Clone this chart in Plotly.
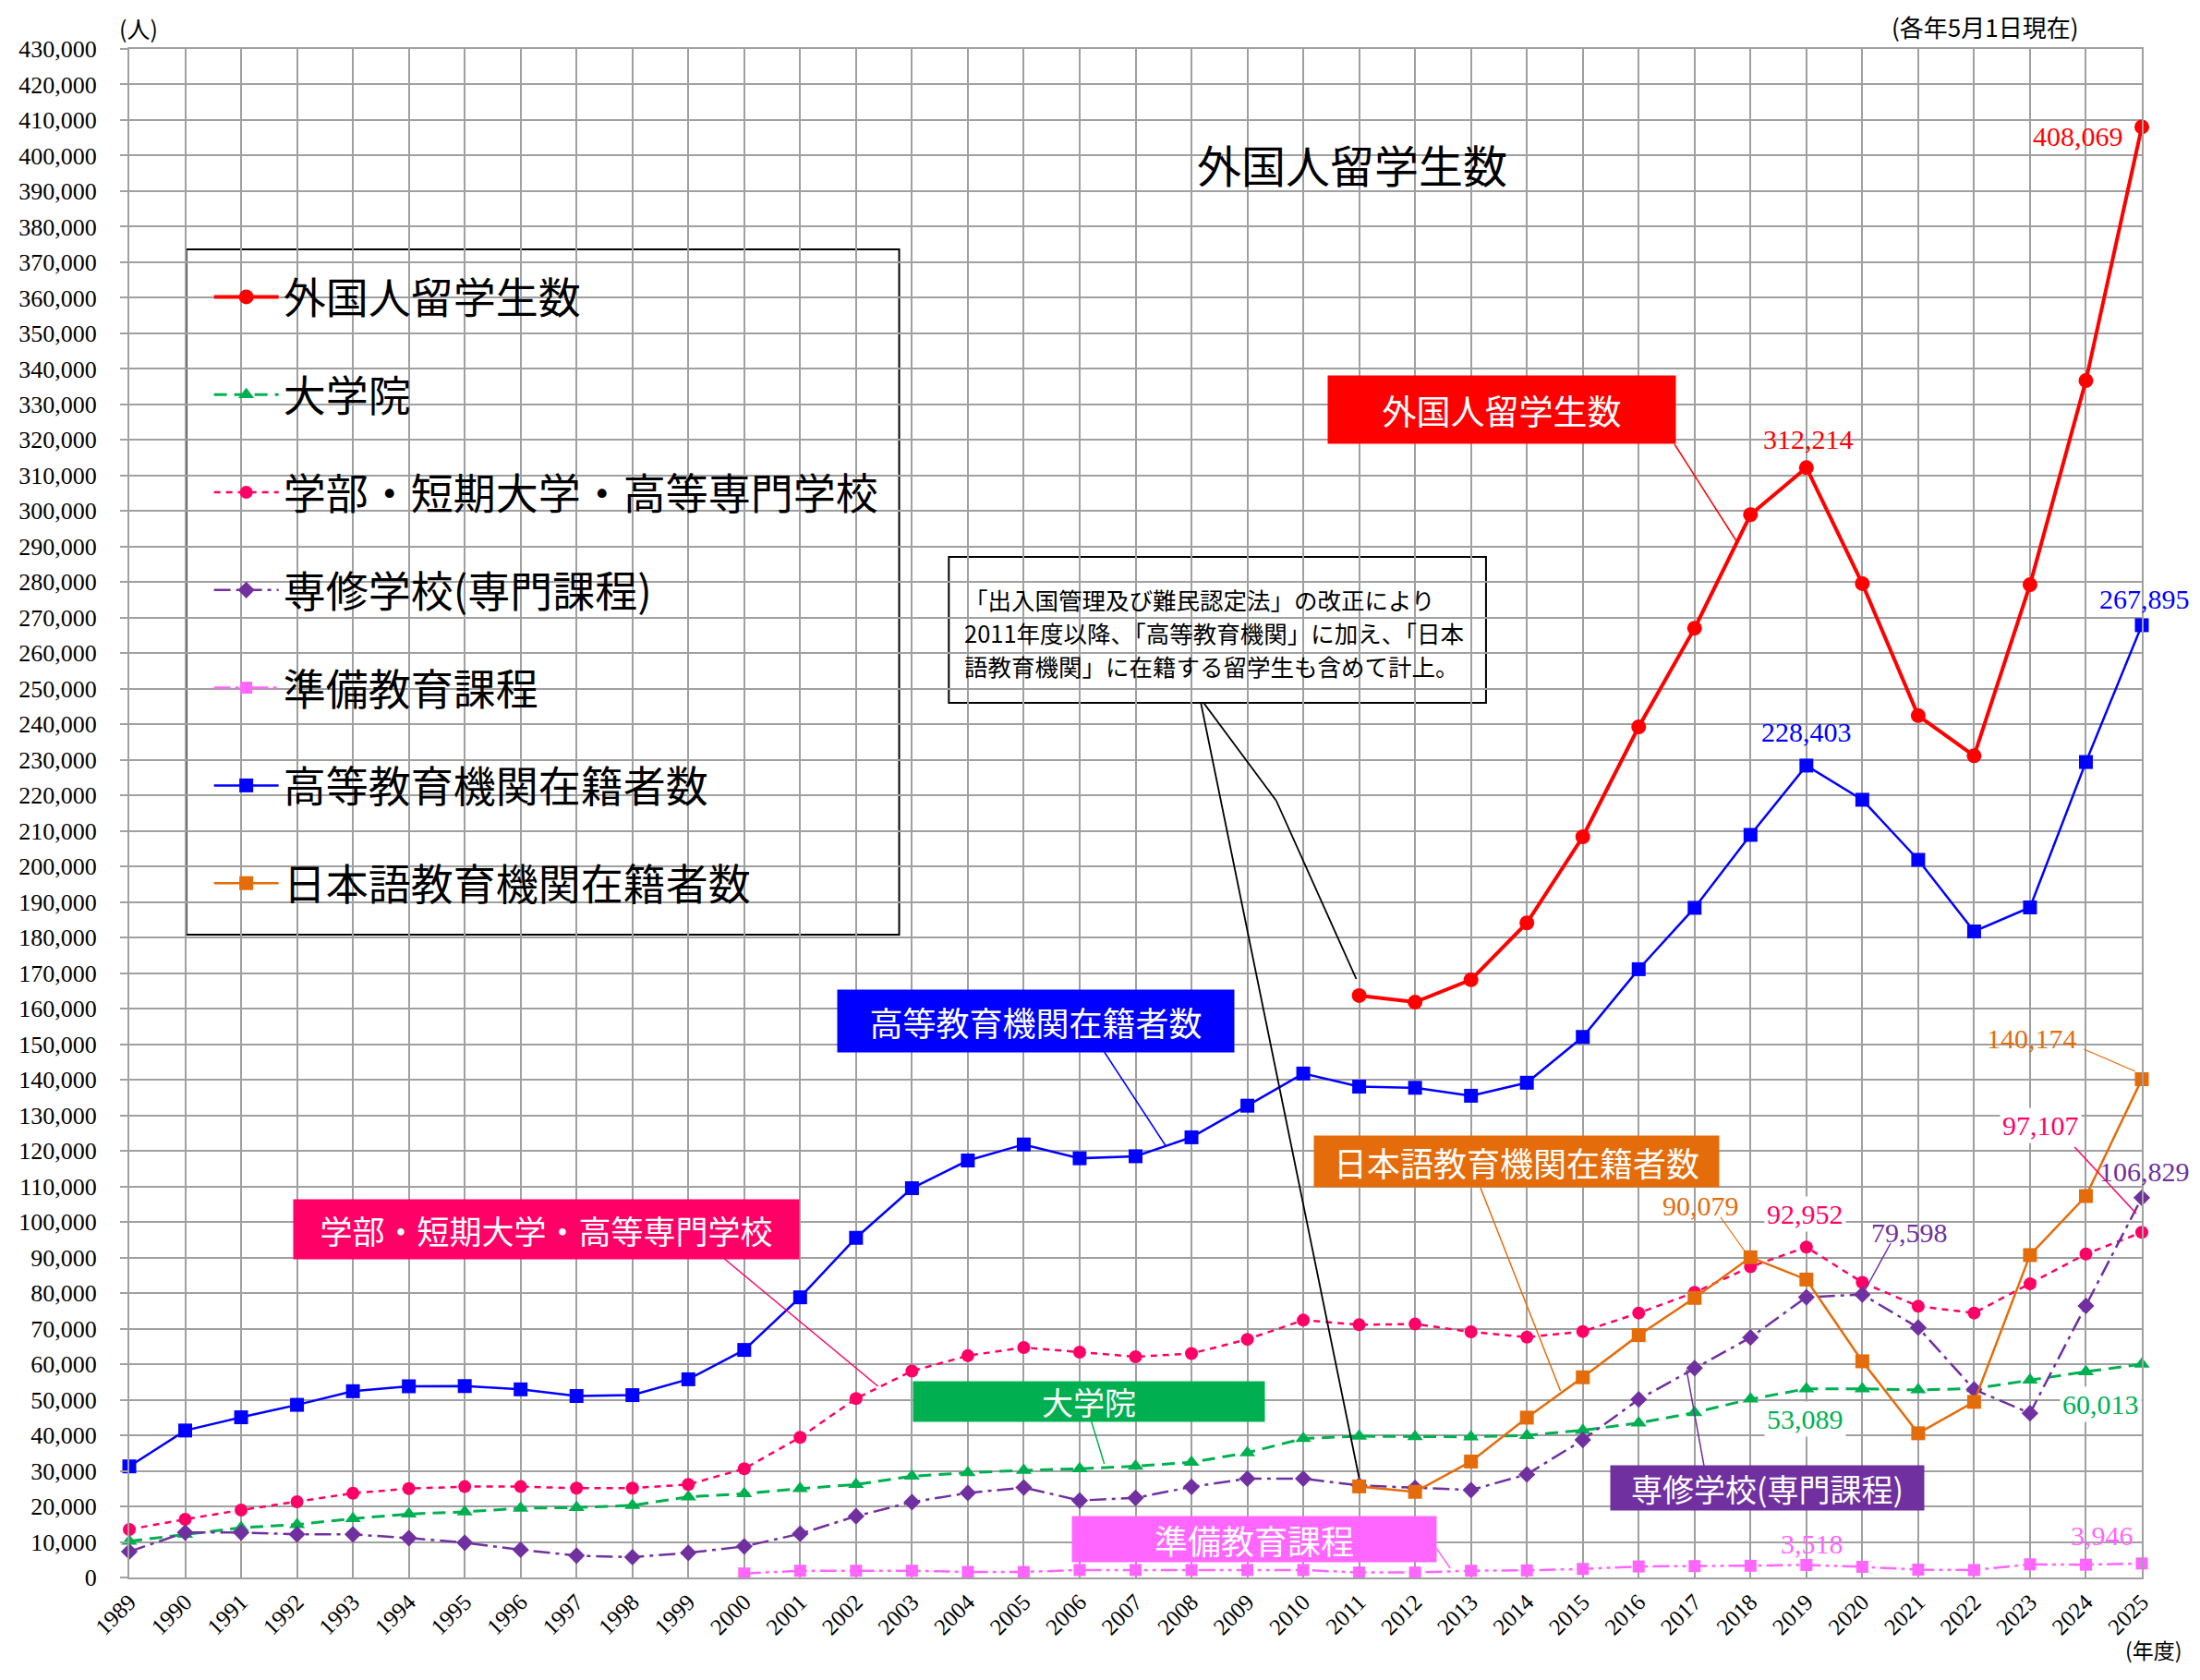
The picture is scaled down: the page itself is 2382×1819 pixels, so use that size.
import plotly.graph_objects as go

# ---------------- data ----------------
years = list(range(1989, 2026))

total = [None] * 22 + [163697, 161848, 168145, 184155, 208379, 239287, 267042,
                       298980, 312214, 279597, 242444, 231146, 279274, 336708, 408069]

graduate = [10200, 12130, 14000, 14900, 16550, 17850, 18460, 19500, 19670, 20280,
            22700, 23570, 25000, 26170, 28500, 29460, 30160, 30600, 31300, 32400,
            35100, 39097, 39749, 39641, 39567, 39979, 41396, 43478, 46373, 50184,
            53089, 53056, 52781, 53122, 55519, 57900, 60013]

undergrad = [13520, 16380, 18980, 21300, 23700, 25000, 25560, 25560, 25130, 25130,
             26170, 30590, 39430, 50350, 58060, 62400, 64700, 63400, 62100, 63000,
             67000, 72400, 71100, 71300, 69100, 67600, 69200, 74400, 80200, 87400,
             92952, 83000, 76300, 74400, 82600, 91000, 97107]

vocational = [7280, 12650, 12650, 12130, 12130, 11090, 9790, 7800, 6150, 5720,
              6930, 8750, 12300, 17240, 21200, 23800, 25300, 21660, 22400, 25500,
              27800, 27800, 25900, 25200, 24600, 29000, 38700, 50100, 58900, 67500,
              78844, 79598, 70300, 52900, 46200, 76400, 106829]

prep = [None] * 11 + [1130, 1900, 1900, 1900, 1560, 1560, 2100, 2100, 2100, 2100,
                      2100, 1400, 1400, 1900, 2000, 2400, 3100, 3200, 3300, 3518,
                      3000, 2200, 2100, 3700, 3600, 3946]

higher = [31251, 41347, 45066, 48561, 52405, 53787, 53847, 52921, 51047, 51298,
          55755, 64011, 78812, 95550, 109508, 117302, 121812, 117927, 118498, 123829,
          132720, 141774, 138075, 137756, 135519, 139185, 152062, 171122, 188384, 208901,
          228403, 218783, 201877, 181741, 188500, 229400, 267895]

japanese = [None] * 22 + [25622, 24092, 32626, 44970, 56317, 68165, 78658, 90079,
                          83811, 60814, 40567, 49405, 90700, 107300, 140174]

names = ["外国人留学生数", "大学院", "学部・短期大学・高等専門学校", "専修学校(専門課程)",
         "準備教育課程", "高等教育機関在籍者数", "日本語教育機関在籍者数"]

# ---------------- geometry helpers (window pixel coords) ----------------
WIN_W, WIN_H = 2382, 1819
OFF = 8                       # default page body margin
W, H = WIN_W - 2 * OFF, WIN_H - 2 * OFF
L, R, T, B = 131, 2319, 53, 1708   # plot area in window pixels


def px(x):
    return (x - L) / (R - L)


def py(y):
    return (B - y) / (B - T)


JP = "Noto Sans CJK JP"
NUM = "Liberation Serif"

RED = "#FF0000"
GREEN = "#00B050"
PINK = "#FF0066"
PURPLE = "#7030A0"
MAGENTA = "#FF66FF"
BLUE = "#0000FF"
ORANGE = "#E46C0A"
GRID = "#A0A0A0"

fig = go.Figure()

series = [
    (names[0], total, RED, "solid", 4, "circle", 16),
    (names[1], graduate, GREEN, "14px,8px", 3, "triangle-up", 15),
    (names[2], undergrad, PINK, "7px,6px", 2.5, "circle", 14),
    (names[3], vocational, PURPLE, "18px,6px,4px,6px", 2.5, "diamond", 14),
    (names[4], prep, MAGENTA, "18px,5px,4px,5px,4px,5px", 2.5, "square", 13),
    (names[5], higher, BLUE, "solid", 2.5, "square", 15),
    (names[6], japanese, ORANGE, "solid", 2.5, "square", 15),
]

for i, (nm, ys, col, dash, lw, sym, ms) in enumerate(series):
    fig.add_trace(go.Scatter(
        x=years, y=ys, name=nm, mode="lines+markers",
        line=dict(color=col, width=lw, dash=dash),
        marker=dict(symbol=sym, size=ms, color=col, line=dict(width=0)),
        legendgroup=f"g{i}", cliponaxis=False, connectgaps=False,
    ))

shapes = []
annotations = []


def box(x0, y0, x1, y1, fill, line=None, lw=0, layer="between"):
    shapes.append(dict(type="rect", xref="paper", yref="paper",
                       x0=px(x0), x1=px(x1), y0=py(y1), y1=py(y0),
                       fillcolor=fill, line=dict(color=line or fill, width=lw), layer=layer))


def seg(pts, color, width=1.5):
    for (a, b), (c, d) in zip(pts[:-1], pts[1:]):
        shapes.append(dict(type="line", xref="paper", yref="paper",
                           x0=px(a), y0=py(b), x1=px(c), y1=py(d),
                           line=dict(color=color, width=width), layer="above"))


def text(x, y, s, size, color="black", font=JP, xanchor="center", bg=None):
    annotations.append(dict(x=px(x), y=py(y), xref="paper", yref="paper", text=s,
                            showarrow=False, xanchor=xanchor, yanchor="middle",
                            font=dict(family=font, size=size, color=color),
                            bgcolor=bg, borderpad=2))


def callout(x0, y0, x1, y1, s, color, size):
    annotations.append(dict(x=px((x0 + x1) / 2), y=py((y0 + y1) / 2), xref="paper", yref="paper",
                            text=s, showarrow=False, xanchor="center", yanchor="middle",
                            width=x1 - x0, height=y1 - y0, bgcolor=color, borderpad=0,
                            font=dict(family=JP, size=size, color="white")))


# legend frame
box(193, 270, 968, 1012, "white", "black", 2)

# title box
box(1105, 134, 1813, 226, "white")
text(1460, 177, "外国人留学生数", 48)

# note box
box(1022, 603, 1606, 761, "white", "black", 2)
text(1036, 648, "「出入国管理及び難民認定法」の改正により", 25.5, xanchor="left")
text(1036, 684, "2011年度以降、「高等教育機関」に加え、「日本", 25.5, xanchor="left")
text(1036, 720, "語教育機関」に在籍する留学生も含めて計上。", 25.5, xanchor="left")
seg([(1299, 761), (1378, 867), (1465, 1060)], "black", 1.8)
seg([(1296, 761), (1468, 1600)], "black", 1.8)

# unit labels
text(141, 30, "(人)", 25)
text(2148, 28, "(各年5月1日現在)", 26)
text(2366, 1786, "(年度)", 23, xanchor="right")

# series callouts
callout(1435, 407, 1811, 480, names[0], RED, 37)
seg([(1811, 481), (1879, 587)], RED, 1.5)
callout(902, 1072, 1331, 1139, names[5], BLUE, 36)
seg([(1191, 1139), (1258, 1241)], BLUE, 1.5)
callout(311, 1299, 858, 1363, names[2], PINK, 35)
seg([(778, 1363), (945, 1501)], PINK, 1.5)
callout(984, 1496, 1364, 1539, names[1], GREEN, 34)
seg([(1177, 1539), (1191, 1585)], GREEN, 1.5)
callout(1420, 1230, 1858, 1285, names[6], ORANGE, 36)
seg([(1600, 1286), (1687, 1506)], ORANGE, 1.5)
callout(1742, 1587, 2081, 1635, names[3], PURPLE, 34)
seg([(1843, 1587), (1824, 1483)], PURPLE, 1.5)
callout(1157, 1642, 1551, 1691, names[4], MAGENTA, 36)
seg([(1552, 1676), (1567, 1698)], MAGENTA, 1.5)

# value labels
VS = 30
text(2250, 147, f"{total[-1]:,}", VS, RED, NUM)
text(1957, 476, f"{total[30]:,}", VS, RED, NUM)
text(2322, 648, f"{higher[-1]:,}", VS, BLUE, NUM)
text(1955, 792, f"{higher[30]:,}", VS, BLUE, NUM)
text(2200, 1124, f"{japanese[-1]:,}", VS, ORANGE, NUM)
seg([(2256, 1136), (2312, 1160)], ORANGE, 1.2)
text(2209, 1218, f"{undergrad[-1]:,}", VS, PINK, NUM, bg="white")
seg([(2246, 1242), (2313, 1314)], PINK, 1.5)
text(2322, 1268, f"{vocational[-1]:,}", VS, PURPLE, NUM)
text(1840, 1305, f"{japanese[29]:,}", VS, ORANGE, NUM)
seg([(1861, 1318), (1889, 1357)], ORANGE, 1.2)
text(1953, 1314, f"{undergrad[30]:,}", VS, PINK, NUM, bg="white")
text(2066, 1334, f"{vocational[31]:,}", VS, PURPLE, NUM)
seg([(2046, 1346), (2018, 1397)], PURPLE, 1.5)
text(1953, 1536, f"{graduate[30]:,}", VS, GREEN, NUM, bg="white")
text(2274, 1520, f"{graduate[-1]:,}", VS, GREEN, NUM, bg="white")
text(1961, 1671, f"{prep[30]:,}", VS, MAGENTA, NUM)
text(2276, 1662, f"{prep[-1]:,}", VS, MAGENTA, NUM)

fig.update_layout(
    width=W, height=H, autosize=False,
    margin=dict(l=L - OFF, r=W - (R - OFF), t=T - OFF, b=H - (B - OFF)),
    paper_bgcolor="white", plot_bgcolor="white",
    shapes=shapes, annotations=annotations,
    showlegend=True,
    legend=dict(x=px(218), y=py(285), xanchor="left", yanchor="top",
                bgcolor="rgba(0,0,0,0)", borderwidth=0,
                font=dict(family=JP, size=46, color="black"),
                itemwidth=70, tracegroupgap=43, traceorder="grouped",
                itemclick=False, itemdoubleclick=False),
    xaxis=dict(range=[1989, 2025], tickmode="array", tickvals=years,
               ticktext=[str(y) for y in years], tickangle=-45,
               showgrid=True, gridcolor=GRID, gridwidth=2,
               showline=True, linecolor=GRID, linewidth=2, mirror=True,
               zeroline=False, ticks="",
               tickfont=dict(family=NUM, size=25, color="black")),
    yaxis=dict(range=[0, 430000], dtick=10000, tick0=0, tickformat=",",
               showgrid=True, gridcolor=GRID, gridwidth=2,
               showline=True, linecolor=GRID, linewidth=2, mirror=True,
               zeroline=False, ticks="outside", ticklen=8, tickcolor=GRID,
               tickwidth=2, ticklabelstandoff=20,
               tickfont=dict(family=NUM, size=26, color="black")),
)

fig.write_html("out.html")
